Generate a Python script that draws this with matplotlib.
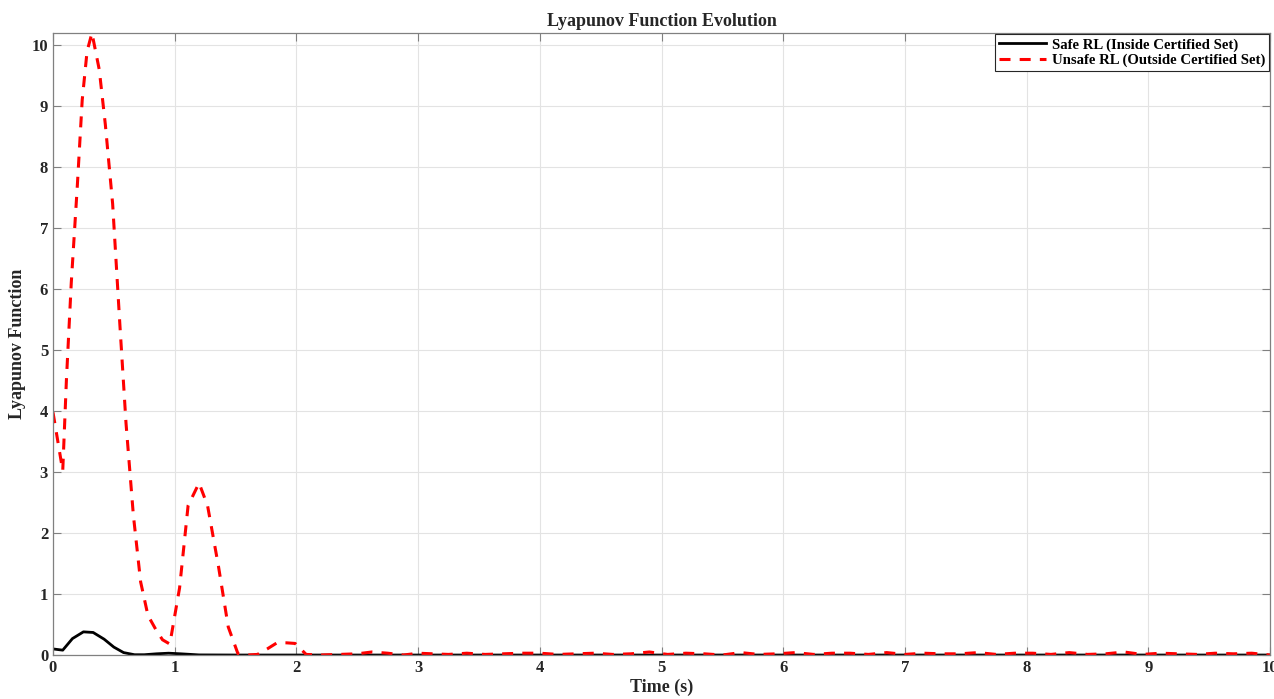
import matplotlib
matplotlib.use("Agg")
import matplotlib.pyplot as plt

# ---- data ----
t_safe = [0.0, 0.08, 0.16, 0.25, 0.33, 0.42, 0.50, 0.58, 0.67, 0.75, 0.85, 0.95, 1.05, 1.20, 1.5, 2.0, 10.0]
v_safe = [0.10, 0.08, 0.27, 0.38, 0.37, 0.26, 0.13, 0.04, 0.005, 0.005, 0.02, 0.03, 0.02, 0.002, 0.0, 0.0, 0.0]

t_unsafe_head = [0.0, 0.08, 0.11, 0.15, 0.20, 0.24, 0.28, 0.32, 0.38, 0.43, 0.49, 0.55, 0.60,
                 0.66, 0.72, 0.78, 0.85, 0.90, 0.96, 1.04, 1.11, 1.20, 1.27, 1.36, 1.44, 1.52,
                 1.60, 1.68, 1.76, 1.84, 1.92, 1.99, 2.08]
v_unsafe_head = [3.98, 3.02, 4.5, 6.1, 7.7, 9.1, 9.9, 10.2, 9.6, 8.7, 7.4, 5.4, 3.8,
                 2.3, 1.2, 0.65, 0.40, 0.25, 0.18, 1.1, 2.45, 2.82, 2.45, 1.45, 0.46, 0.02,
                 0.0, 0.01, 0.10, 0.20, 0.20, 0.19, 0.01]
t_unsafe_tail = [2.2, 2.35, 2.5, 2.62, 2.75, 2.88, 3.0, 3.12, 3.25, 3.4, 3.55, 3.7, 3.85, 4.0,
                 4.15, 4.3, 4.45, 4.6, 4.75, 4.9, 5.05, 5.2, 5.35, 5.5, 5.65, 5.8, 5.95, 6.1,
                 6.25, 6.4, 6.55, 6.7, 6.85, 7.0, 7.15, 7.3, 7.45, 7.6, 7.75, 7.9, 8.05, 8.2,
                 8.35, 8.5, 8.65, 8.8, 8.95, 9.1, 9.25, 9.4, 9.55, 9.7, 9.85, 10.0]
v_unsafe_tail = [0.0, 0.01, 0.02, 0.05, 0.03, 0.0, 0.03, 0.02, 0.01, 0.03, 0.01, 0.02, 0.03, 0.03,
                 0.01, 0.02, 0.03, 0.01, 0.02, 0.05, 0.01, 0.03, 0.02, 0.0, 0.04, 0.01, 0.02, 0.04,
                 0.01, 0.03, 0.03, 0.01, 0.04, 0.01, 0.03, 0.02, 0.02, 0.04, 0.01, 0.03, 0.03, 0.01,
                 0.04, 0.01, 0.02, 0.05, 0.01, 0.03, 0.02, 0.01, 0.03, 0.02, 0.03, 0.0]
t_unsafe = t_unsafe_head + t_unsafe_tail
v_unsafe = v_unsafe_head + v_unsafe_tail

xticks = list(range(0, 11))
yticks = list(range(0, 11))

# ---- figure ----
plt.rcParams['font.family'] = ['Liberation Serif', 'DejaVu Serif']
plt.rcParams['font.weight'] = 'bold'

fig = plt.figure(figsize=(12.74, 6.99), dpi=100)
ax = fig.add_axes([0.0416, 0.0629, 0.9553, 0.8899])

ax.plot(t_safe, v_safe, color='black', lw=2.0, label='Safe RL (Inside Certified Set)')
ax.plot(t_unsafe, v_unsafe, color='#ff0000', lw=2.2, linestyle=(0, (3.6, 3.0)),
        label='Unsafe RL (Outside Certified Set)')

ax.set_xlim(0, 10)
ax.set_ylim(0, 10.2)
ax.set_xticks(xticks)
ax.set_yticks(yticks)
ax.grid(True, color='#e3e3e3', lw=0.8)
ax.set_axisbelow(True)
ax.tick_params(direction='in', length=6, width=0.8, color='#808080', labelsize=12,
               labelcolor='#262626', top=True, right=True)
for lab in ax.get_xticklabels() + ax.get_yticklabels():
    lab.set_fontweight('bold')
for s in ax.spines.values():
    s.set_color('#808080')
    s.set_linewidth(0.9)

ax.set_title('Lyapunov Function Evolution', fontsize=13, fontweight='bold', color='#262626', pad=5)
ax.set_xlabel('Time (s)', fontsize=13, fontweight='bold', color='#262626', labelpad=2)
ax.set_ylabel('Lyapunov Function', fontsize=13, fontweight='bold', color='#262626', labelpad=4)

leg = ax.legend(loc='upper right', prop={'weight': 'bold', 'size': 10.6},
                frameon=True, fancybox=False, edgecolor='#262626', framealpha=1,
                borderpad=0.25, labelspacing=0.15, handlelength=3.2, handletextpad=0.4,
                borderaxespad=0.1)
leg.get_frame().set_linewidth(0.8)

fig.savefig('out.png', dpi=100)
